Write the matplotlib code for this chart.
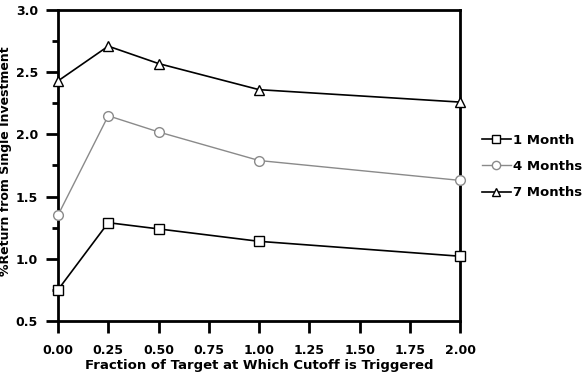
import matplotlib
matplotlib.use("Agg")
import matplotlib.pyplot as plt
from matplotlib.ticker import MultipleLocator

plt.rcParams['font.family'] = ['DejaVu Sans']
plt.rcParams['font.weight'] = 'bold'

# Data
fraction = [0.0, 0.25, 0.5, 1.0, 2.0]
one_month = [0.75, 1.29, 1.24, 1.14, 1.02]
four_months = [1.35, 2.15, 2.02, 1.79, 1.63]
seven_months = [2.43, 2.71, 2.57, 2.36, 2.26]

fig = plt.figure(figsize=(5.88, 3.74), dpi=100)
ax = fig.add_axes([0.0986, 0.142, 0.684, 0.831])

ax.plot(fraction, one_month, color='black', lw=1.2, marker='s', ms=6.5,
        mfc='white', mec='black', mew=1.0, label='1 Month', clip_on=False, zorder=3)
ax.plot(fraction, four_months, color='#8a8a8a', lw=1.0, marker='o', ms=7,
        mfc='white', mec='#8a8a8a', mew=1.0, label='4 Months', clip_on=False, zorder=3)
ax.plot(fraction, seven_months, color='black', lw=1.2, marker='^', ms=7,
        mfc='white', mec='black', mew=1.0, label='7 Months', clip_on=False, zorder=3)

ax.set_xlim(0, 2)
ax.set_ylim(0.5, 3.0)
ax.xaxis.set_major_locator(MultipleLocator(0.25))
ax.yaxis.set_major_locator(MultipleLocator(0.5))
ax.yaxis.set_minor_locator(MultipleLocator(0.25))
ax.xaxis.set_major_formatter(plt.FormatStrFormatter('%.2f'))
ax.yaxis.set_major_formatter(plt.FormatStrFormatter('%.1f'))

for s in ax.spines.values():
    s.set_linewidth(2.0)
ax.tick_params(axis='both', which='major', direction='out', length=8.5, width=2.0,
               labelsize=9, pad=8)
ax.tick_params(axis='y', which='major', pad=6)
ax.tick_params(axis='y', which='minor', direction='out', length=4, width=2.0)
for lab in ax.get_xticklabels() + ax.get_yticklabels():
    lab.set_fontweight('bold')

ax.set_xlabel('Fraction of Target at Which Cutoff is Triggered', fontsize=9.5,
              fontweight='bold')
ax.xaxis.set_label_coords(0.5, -0.122)
ax.set_ylabel('%Return from Single Investment', fontsize=9, fontweight='bold')
ax.yaxis.set_label_coords(-0.115, 0.515)

fig.legend(loc='center left', bbox_to_anchor=(0.808, 0.555), frameon=False,
           fontsize=9.5, handlelength=2.2, handletextpad=0.2, labelspacing=1.0,
           borderpad=0, markerscale=0.85)

fig.savefig('out.png', dpi=100)
